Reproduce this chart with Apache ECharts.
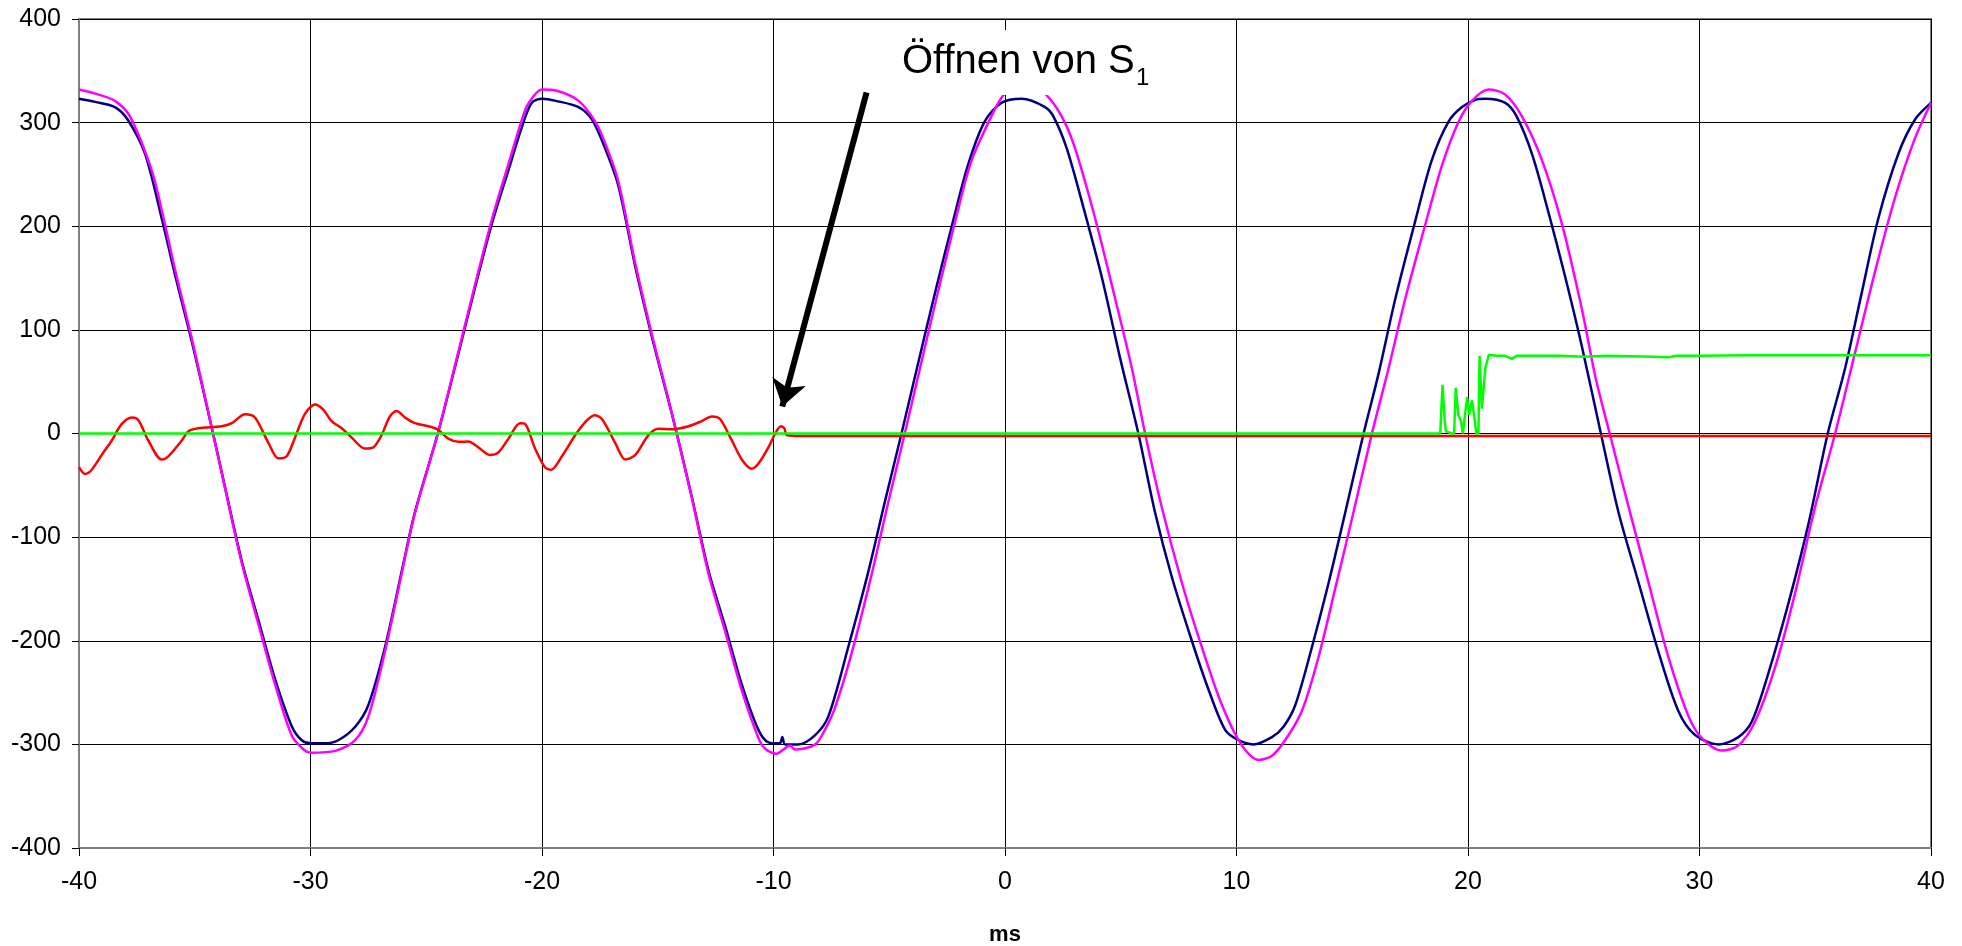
<!DOCTYPE html>
<html>
<head>
<meta charset="utf-8">
<title>Öffnen von S1</title>
<script src="https://cdn.jsdelivr.net/npm/echarts@6.0.0/dist/echarts.min.js"></script>
<style>
html, body { margin: 0; padding: 0; background: #fff; }
#chart { width: 1962px; height: 946px; }
</style>
</head>
<body>
<div id="chart"></div>
<script>
// time axis in ms
var xMin = -40, xMax = 40, xStep = 10;
var yMin = -400, yMax = 400, yStep = 100;

// dark blue trace
var tNavy = [-40, -39.3, -38.45, -37.9, -37.15, -36.4, -35.85, -35.13, -34.27, -33.7, -32.97, -32.25, -31.53, -30.8, -30.38, -30, -29.4, -28.8, -28.07, -27.5, -26.78, -26.06, -25.49, -24.5, -23.6, -22.9, -22.17, -21.45, -20.88, -20.45, -20, -19.4, -18.42, -17.84, -17.27, -16.7, -15.97, -15.26, -14.54, -14.18, -13.53, -12.8, -12.1, -11.37, -10.65, -10.22, -9.73, -9.62, -9.5, -8.93, -8.2, -7.63, -6.77, -5.9, -5.19, -4.47, -3.75, -3.03, -2.3, -1.6, -0.88, -0.16, 0.72, 1.73, 2.09, 2.67, 3.39, 4.18, 4.97, 5.76, 6.48, 7.2, 8.07, 8.79, 9.51, 10.09, 10.73, 11.53, 12.03, 12.54, 13.26, 13.98, 14.7, 15.49, 16.14, 16.86, 17.72, 18.44, 19.16, 19.74, 20.32, 20.75, 21.61, 22.1, 22.76, 23.48, 24.2, 24.92, 25.74, 26.5, 27.37, 28.23, 29.09, 29.81, 30.82, 31.68, 32.26, 32.98, 33.84, 34.71, 35.54, 36.29, 37, 37.73, 38.59, 39.31, 40];
var vNavy = [323, 320, 315, 303, 270, 205, 153, 89, 6, -51, -123, -180, -237, -283, -296, -299, -299, -296, -283, -262, -206, -133, -76, 0, 78, 140, 202, 254, 295, 319, 323, 321, 315, 303, 275, 239, 161, 94, 32, 0, -61, -133, -185, -242, -286, -298, -299, -293, -300, -300, -291, -273, -206, -133, -66, 0, 68, 135, 200, 259, 301, 319, 323, 315, 306, 275, 218, 151, 73, 0, -76, -138, -200, -247, -286, -296, -300, -293, -283, -262, -206, -144, -76, 0, 58, 130, 205, 264, 301, 315, 322, 323, 319, 306, 270, 213, 151, 84, 0, -76, -144, -211, -268, -291, -300, -293, -278, -231, -164, -87, 0, 63, 135, 208, 270, 303, 319];

// magenta trace
var tPink = [-40, -39.3, -38.45, -37.8, -36.86, -36.4, -35.85, -35.13, -34.27, -33.7, -32.97, -32.25, -31.53, -30.8, -30.3, -30, -28.9, -28.07, -27.5, -26.78, -26.06, -25.49, -24.5, -23.6, -22.9, -22.17, -21.45, -20.88, -20.6, -20, -19.4, -18.42, -17.7, -17.27, -16.7, -15.97, -15.26, -14.54, -14.18, -13.53, -12.8, -12.1, -11.37, -10.65, -10.37, -9.86, -9.57, -9.3, -9.07, -8.2, -7.78, -7.35, -6.6, -5.75, -5.05, -4.33, -3.6, -2.88, -2.15, -1.45, -0.59, -0.09, 0.5, 1, 1.73, 2.45, 3.03, 3.89, 4.76, 5.48, 6.05, 6.77, 7.64, 8.5, 9.37, 10.23, 10.95, 11.53, 12.1, 12.82, 13.54, 14.27, 14.99, 15.85, 16.57, 17.29, 18.16, 18.88, 19.6, 20.17, 20.89, 21.61, 22.33, 23.19, 24.06, 24.92, 25.5, 26.12, 26.94, 27.8, 28.66, 29.53, 30.1, 30.96, 31.68, 32.4, 33.26, 34.13, 34.99, 35.86, 36.72, 37.58, 38.45, 39.31, 40];
var vPink = [332, 328, 321, 306, 254, 213, 158, 92, 6, -52, -125, -184, -242, -292, -305, -308, -306, -296, -273, -210, -135, -77, 0, 80, 143, 206, 260, 302, 318, 332, 331, 321, 301, 280, 243, 164, 96, 33, 0, -62, -136, -190, -248, -294, -304, -309, -305, -301, -305, -300, -286, -265, -210, -135, -67, 0, 70, 138, 205, 263, 306, 326, 336, 338, 328, 306, 275, 208, 130, 63, 0, -71, -144, -206, -262, -301, -315, -311, -296, -268, -216, -149, -82, 0, 63, 130, 202, 259, 301, 321, 332, 327, 306, 264, 202, 120, 55, 0, -71, -144, -216, -273, -294, -306, -301, -278, -226, -154, -71, 0, 78, 156, 228, 285, 319];

// red trace
var tRed = [-40, -39.74, -39.45, -39, -38.59, -38.16, -37.72, -37.44, -37, -36.43, -36.14, -35.57, -35.28, -34.85, -33.84, -33.4, -32.83, -32.4, -31.82, -31.39, -31.03, -30.67, -30.24, -29.8, -29.45, -29.09, -28.65, -28.22, -27.65, -27.29, -26.93, -26.57, -26.28, -25.92, -25.49, -24.9, -24.48, -24.05, -23.6, -23.18, -22.75, -22.25, -21.9, -21.45, -20.95, -20.73, -20.3, -19.87, -19.6, -19.14, -18.56, -18.13, -17.73, -17.41, -16.84, -16.4, -15.97, -15.4, -14.97, -14.39, -13.67, -13.1, -12.67, -12.31, -11.8, -11.37, -10.94, -10.65, -10.22, -9.94, -9.68, -9.53, -9.43, -8.78, 0, 10, 20, 30, 40];
var vRed = [-32.5, -39, -35, -20, -7, 9, 15.5, 13, -7, -25, -22, -7, 2, 5, 7, 10, 18.6, 15.5, -9, -24, -22, -4, 19, 28, 23, 12, 5, -4, -14.5, -13.4, -1.5, 16.5, 21.7, 15.5, 10, 7, 3.6, -5, -8, -7.7, -13.4, -20.7, -18.6, -5, 10, 9.3, -14.5, -32.5, -35, -22, -1.5, 11, 17.6, 14, -9, -25, -20.7, -1.5, 4.6, 4, 7, 12, 16.5, 14, -6.7, -25, -34, -29, -13.4, -0.5, 7, 5, -1.5, -2.5, -2.3, -2.5, -2.3, -2.5, -2.5];

// green trace
var tGreen = [-40, 18.8, 18.9, 19.0, 19.05, 19.3, 19.4, 19.47, 19.58, 19.7, 19.78, 19.96, 20.05, 20.17, 20.28, 20.36, 20.45, 20.5, 20.6, 20.75, 20.9, 21.2, 21.6, 21.9, 22.1, 24, 25, 26, 28, 28.7, 29, 30, 32, 35, 38, 40];
var vGreen = [0, 0, 47, 10, 2, 0, 0, 44, 18, 12, 0, 35, 18, 32, 15, 0, 0, 75, 24, 63, 76, 75, 75, 72, 75, 75, 74, 75, 74, 73.5, 75, 75, 75.5, 75.5, 75.5, 75.5];

// annotation arrow: tail and tip in data coordinates
var arrowTail = [-5.98, 329];
var arrowTip = [-9.62, 26];

function pairs(t, v) {
    return t.map(function (x, i) { return [x, v[i]]; });
}

var font = '"Liberation Sans", Arial, sans-serif';
var dom = document.getElementById('chart');
var myChart = echarts.init(dom);
var option = {
    animation: false,
    backgroundColor: '#fff',
    grid: {
        left: 79, right: 31, top: 19, bottom: 98,
        outerBoundsMode: 'none',
        show: true,
        borderColor: '#808080',
        borderWidth: 2
    },
    xAxis: {
        type: 'value',
        min: xMin, max: xMax, interval: xStep,
        name: 'ms',
        nameLocation: 'middle',
        nameGap: 76,
        nameTextStyle: { fontFamily: font, fontSize: 22, fontWeight: 'bold', color: '#000' },
        axisLine: { show: true, onZero: false, lineStyle: { color: '#808080', width: 2 } },
        axisTick: { show: true, inside: false, length: 8, lineStyle: { color: '#000' } },
        axisLabel: { fontFamily: font, fontSize: 25, color: '#000', margin: 22 },
        splitLine: { show: true, lineStyle: { color: '#000', width: 1 } }
    },
    yAxis: {
        type: 'value',
        min: yMin, max: yMax, interval: yStep,
        axisLine: { show: true, onZero: false, lineStyle: { color: '#808080', width: 2 } },
        axisTick: { show: true, inside: false, length: 7, lineStyle: { color: '#000' } },
        axisLabel: { fontFamily: font, fontSize: 25, color: '#000', margin: 18 },
        splitLine: { show: true, lineStyle: { color: '#000', width: 1 } }
    },
    series: [
        {
            name: 'navy', type: 'line', data: pairs(tNavy, vNavy),
            showSymbol: false, smooth: 0.3,
            lineStyle: { color: '#000080', width: 2.5 }, z: 2
        },
        {
            name: 'magenta', type: 'line', data: pairs(tPink, vPink),
            showSymbol: false, smooth: 0.3,
            lineStyle: { color: '#ff00ff', width: 2.5 }, z: 3
        },
        {
            name: 'red', type: 'line', data: pairs(tRed, vRed),
            showSymbol: false, smooth: 0.3,
            lineStyle: { color: '#ff0000', width: 2.5 }, z: 4
        },
        {
            name: 'green', type: 'line', data: pairs(tGreen, vGreen),
            showSymbol: false,
            lineStyle: { color: '#00ff00', width: 2.5 }, z: 5,
            markLine: {
                silent: true,
                symbol: ['none', 'arrow'],
                symbolSize: 26,
                label: { show: false },
                lineStyle: { color: '#000', width: 6, type: 'solid' },
                itemStyle: { color: '#000' },
                data: [[{ coord: arrowTail }, { coord: arrowTip }]]
            }
        }
    ],
    graphic: [
        {
            type: 'rect', z: 50,
            shape: { x: 895, y: 30, width: 268, height: 65 },
            style: { fill: '#fff' }
        },
        {
            type: 'text', z: 51, x: 902, y: 42,
            style: { text: 'Öffnen von S', font: '40px ' + font, fill: '#000', verticalAlign: 'top' }
        },
        {
            type: 'text', z: 51, x: 1136, y: 66,
            style: { text: '1', font: '24px ' + font, fill: '#000', verticalAlign: 'top' }
        }
    ]
};
myChart.setOption(option, true);
</script>
</body>
</html>
